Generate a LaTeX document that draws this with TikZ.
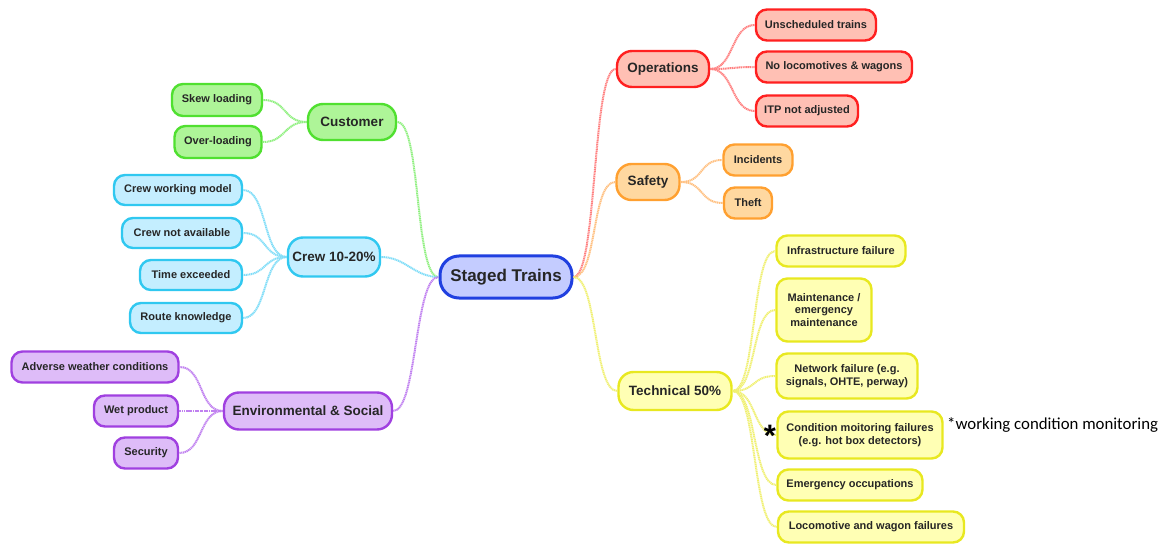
\documentclass[tikz,border=0pt]{standalone}
\usepackage{fontspec}
\setmainfont{Liberation Sans}
\newfontfamily\notefont{Carlito}
\begin{document}
\begin{tikzpicture}[x=1pt,y=-1pt,
  box/.style={rounded corners=11pt, line width=2.4pt, align=center, inner sep=0pt,
    text=black!85, font=\bfseries\fontsize{11}{12.5}\selectfont},
  mid/.style={box, rounded corners=15pt, font=\bfseries\fontsize{13.5}{16}\selectfont},
  root/.style={box, rounded corners=19pt, line width=3pt, draw=rootB, fill=rootF,
    font=\bfseries\fontsize{17}{20}\selectfont},
  red/.style={draw=redB, fill=redF},
  orange/.style={draw=orB, fill=orF},
  yel/.style={draw=yeB, fill=yeF},
  grn/.style={draw=grB, fill=grF},
  cyn/.style={draw=cyB, fill=cyF},
  pur/.style={draw=puB, fill=puF},
  wire/.style={line width=2pt, dash pattern=on 1.2pt off 0.6pt},
]
\definecolor{rootB}{HTML}{2040E0}\definecolor{rootF}{HTML}{C4CCFF}
\definecolor{redB}{HTML}{FF2020}\definecolor{redF}{HTML}{FFC0B4}\definecolor{redW}{HTML}{FF8080}
\definecolor{orB}{HTML}{FFA030}\definecolor{orF}{HTML}{FFD8A0}\definecolor{orW}{HTML}{FFC080}
\definecolor{yeB}{HTML}{E8E820}\definecolor{yeF}{HTML}{FFFFB4}\definecolor{yeW}{HTML}{F0F070}
\definecolor{grB}{HTML}{50E030}\definecolor{grF}{HTML}{AEF598}\definecolor{grW}{HTML}{90F080}
\definecolor{cyB}{HTML}{30C8F0}\definecolor{cyF}{HTML}{C4EEFF}\definecolor{cyW}{HTML}{80DDF8}
\definecolor{puB}{HTML}{A040E0}\definecolor{puF}{HTML}{DEBCF8}\definecolor{puW}{HTML}{C080F0}
\useasboundingbox (0,0) rectangle (1169,545);
\fill[white] (0,0) rectangle (1169,545);

% connectors: right-going and left-going S curves
\newcommand\linkR[3]{\draw[wire,#1] (#2.east) .. controls +(24,0) and +(-24,0) .. (#3.west);}
\newcommand\linkL[3]{\draw[wire,#1] (#2.west) .. controls +(-24,0) and +(24,0) .. (#3.east);}

% root
\node[root, minimum width=132, minimum height=42] (st) at (506,277) {Staged Trains};

% right branches
\node[mid, red, minimum width=92, minimum height=36] (op) at (663,69) {Operations};
\node[box, red, minimum width=120, minimum height=31] (op1) at (816,25) {Unscheduled trains};
\node[box, red, minimum width=156, minimum height=31] (op2) at (834,67) {No locomotives \& wagons};
\node[box, red, minimum width=102, minimum height=31] (op3) at (807,111) {ITP not adjusted};

\node[mid, orange, minimum width=63, minimum height=36] (sa) at (648,182) {Safety};
\node[box, orange, minimum width=69, minimum height=31] (sa1) at (758,160) {Incidents};
\node[box, orange, minimum width=48, minimum height=31] (sa2) at (748,203) {Theft};

\node[mid, yel, minimum width=113, minimum height=38] (te) at (675,391) {Technical 50\%};
\node[box, yel, minimum width=129, minimum height=31] (te1) at (841,251) {Infrastructure failure};
\node[box, yel, minimum width=95, minimum height=63] (te2) at (824,310) {Maintenance /\\emergency\\maintenance};
\node[box, yel, minimum width=141, minimum height=45] (te3) at (847,376) {Network failure (e.g.\\signals, OHTE, perway)};
\node[box, yel, minimum width=165, minimum height=47] (te4) at (860,435) {Condition moitoring failures\\(e.g. hot box detectors)};
\node[box, yel, minimum width=145, minimum height=31] (te5) at (850,485) {Emergency occupations};
\node[box, yel, minimum width=186, minimum height=31] (te6) at (871,527) {Locomotive and wagon failures};

% left branches
\node[mid, grn, minimum width=88, minimum height=36] (cu) at (352,122) {Customer};
\node[box, grn, minimum width=90, minimum height=32] (cu1) at (217,100) {Skew loading};
\node[box, grn, minimum width=87, minimum height=32] (cu2) at (218,142) {Over-loading};

\node[mid, cyn, minimum width=92, minimum height=39] (cr) at (334,257) {Crew 10-20\%};
\node[box, cyn, minimum width=128, minimum height=30] (cr1) at (178,190) {Crew working model};
\node[box, cyn, minimum width=120, minimum height=30] (cr2) at (182,233) {Crew not available};
\node[box, cyn, minimum width=102, minimum height=30] (cr3) at (191,275) {Time exceeded};
\node[box, cyn, minimum width=112, minimum height=30] (cr4) at (186,318) {Route knowledge};

\node[mid, pur, minimum width=168, minimum height=37] (en) at (308,411) {Environmental \& Social};
\node[box, pur, minimum width=167, minimum height=31] (en1) at (95,367) {Adverse weather conditions};
\node[box, pur, minimum width=84, minimum height=31] (en2) at (136,411) {Wet product};
\node[box, pur, minimum width=64, minimum height=31] (en3) at (146,453) {Security};

% connectors
\linkR{redW}{st}{op}
\linkR{orW}{st}{sa}
\linkR{yeW}{st}{te}
\linkR{redW}{op}{op1}\linkR{redW}{op}{op2}\linkR{redW}{op}{op3}
\linkR{orW}{sa}{sa1}\linkR{orW}{sa}{sa2}
\linkR{yeW}{te}{te1}\linkR{yeW}{te}{te2}\linkR{yeW}{te}{te3}
\linkR{yeW}{te}{te4}\linkR{yeW}{te}{te5}\linkR{yeW}{te}{te6}
\linkL{grW}{st}{cu}
\linkL{cyW}{st}{cr}
\linkL{puW}{st}{en}
\linkL{grW}{cu}{cu1}\linkL{grW}{cu}{cu2}
\linkL{cyW}{cr}{cr1}\linkL{cyW}{cr}{cr2}\linkL{cyW}{cr}{cr3}\linkL{cyW}{cr}{cr4}
\linkL{puW}{en}{en1}\linkL{puW}{en}{en2}\linkL{puW}{en}{en3}

% footnote mark and its explanation
\node[font=\bfseries\fontsize{31}{31}\selectfont, inner sep=0pt] (ast) at (770,436) {*};
\node[anchor=west, font=\notefont\fontsize{16.8}{18}\selectfont, inner sep=0pt] (nt) at (947,425) {*working condition monitoring};
\end{tikzpicture}
\end{document}
